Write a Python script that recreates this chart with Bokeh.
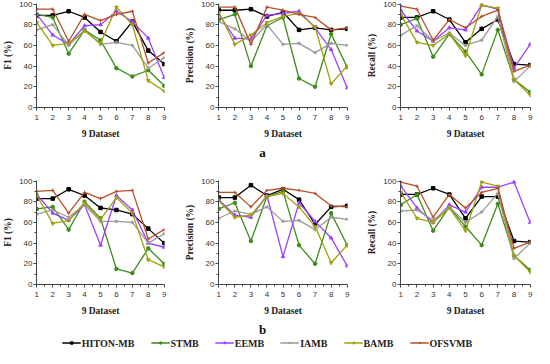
from bokeh.plotting import figure
from bokeh.layouts import column, row
from bokeh.models import Legend, LegendItem, FixedTicker, Range1d, Label
from bokeh.embed import file_html
from bokeh.resources import INLINE

datasets = [1, 2, 3, 4, 5, 6, 7, 8, 9]
methods = ["HITON-MB", "STMB", "EEMB", "IAMB", "BAMB", "OFSVMB"]
colors = ["#000000", "#3c8c1c", "#a040ff", "#9a9a9a", "#a0a010", "#b5502a"]
markers = ["square", "circle", "triangle", "asterisk", "inverted_triangle", "cross"]

# (a) panels
a_f1 = {
    "HITON-MB": [89, 89, 93, 87, 73, 64, 83, 55, 42],
    "STMB":     [90, 87, 52, 75, 65, 38, 30, 36, 21],
    "EEMB":     [90, 70, 61, 79, 80, 93, 83, 67, 29],
    "IAMB":     [75, 80, 60, 75, 61, 63, 60, 38, 48],
    "BAMB":     [82, 60, 62, 74, 62, 97, 80, 26, 16],
    "OFSVMB":   [95, 95, 64, 90, 84, 90, 93, 43, 53],
}
a_precision = {
    "HITON-MB": [94, 94, 95, 88, 92, 75, 77, 75, 76],
    "STMB":     [85, 90, 40, 79, 87, 28, 20, 71, 39],
    "EEMB":     [90, 67, 66, 89, 91, 93, 77, 56, 19],
    "IAMB":     [83, 76, 64, 80, 61, 62, 53, 62, 60],
    "BAMB":     [92, 61, 70, 82, 88, 91, 78, 23, 40],
    "OFSVMB":   [97, 97, 61, 97, 94, 90, 87, 75, 77],
}
a_recall = {
    "HITON-MB": [87, 87, 93, 85, 63, 76, 85, 42, 41],
    "STMB":     [80, 86, 49, 71, 54, 32, 75, 27, 15],
    "EEMB":     [94, 74, 64, 77, 75, 99, 95, 38, 61],
    "IAMB":     [70, 79, 64, 72, 60, 65, 88, 25, 40],
    "BAMB":     [90, 63, 60, 71, 50, 99, 96, 27, 12],
    "OFSVMB":   [98, 95, 65, 85, 77, 88, 94, 35, 41],
}
# (b) panels
b_f1 = {
    "HITON-MB": [83, 83, 92, 86, 74, 72, 68, 54, 40],
    "STMB":     [73, 75, 53, 80, 64, 15, 11, 35, 20],
    "EEMB":     [87, 69, 62, 77, 38, 86, 72, 40, 36],
    "IAMB":     [68, 72, 65, 77, 61, 61, 60, 40, 49],
    "BAMB":     [86, 59, 62, 79, 63, 84, 69, 24, 17],
    "OFSVMB":   [90, 91, 69, 89, 83, 90, 91, 44, 53],
}
b_precision = {
    "HITON-MB": [84, 84, 96, 86, 92, 82, 58, 75, 76],
    "STMB":     [73, 79, 42, 85, 90, 38, 20, 69, 38],
    "EEMB":     [82, 67, 65, 86, 27, 79, 61, 45, 18],
    "IAMB":     [64, 71, 68, 75, 61, 62, 53, 65, 63],
    "BAMB":     [81, 65, 67, 85, 88, 75, 56, 21, 38],
    "OFSVMB":   [89, 89, 75, 91, 93, 91, 88, 76, 75],
}
b_recall = {
    "HITON-MB": [87, 87, 93, 87, 64, 85, 85, 42, 41],
    "STMB":     [77, 87, 52, 75, 56, 38, 78, 28, 14],
    "EEMB":     [95, 74, 60, 77, 70, 94, 94, 99, 60],
    "IAMB":     [71, 72, 62, 75, 60, 70, 88, 25, 40],
    "BAMB":     [89, 64, 60, 74, 52, 99, 95, 28, 12],
    "OFSVMB":   [99, 95, 65, 87, 74, 89, 93, 35, 41],
}
y_ticks = [0, 20, 40, 60, 80, 100]
x_label = "9 Dataset"
group_labels = ["a", "b"]

SERIF = "Liberation Serif"
SANS = "Liberation Sans"


def make_panel(data, ylabel, width, height, left, right, top, bottom):
    p = figure(width=width, height=height, x_range=Range1d(0.98, 9.02),
               y_range=Range1d(0, 100.5), output_backend="svg",
               toolbar_location=None, min_border_left=left,
               min_border_right=right, min_border_top=top,
               min_border_bottom=bottom)
    p.outline_line_color = None
    p.xgrid.visible = False
    p.ygrid.visible = False
    p.xaxis.ticker = FixedTicker(ticks=datasets,
                                 minor_ticks=[d + 0.5 for d in datasets[:-1]])
    p.yaxis.ticker = FixedTicker(ticks=y_ticks,
                                 minor_ticks=[t + 10 for t in y_ticks[:-1]])
    for ax in (p.xaxis[0], p.yaxis[0]):
        ax.major_tick_out = 3
        ax.major_tick_in = 0
        ax.minor_tick_out = 2
        ax.minor_tick_in = 0
        ax.axis_line_color = "#444444"
        ax.major_tick_line_color = "#444444"
        ax.minor_tick_line_color = "#444444"
        ax.major_label_text_font = SANS
        ax.major_label_text_font_size = "8px"
        ax.major_label_text_color = "#333333"
        ax.major_label_standoff = 1
        ax.axis_label_text_font = SERIF
        ax.axis_label_text_font_style = "bold"
        ax.axis_label_text_font_size = "9.5px"
        ax.axis_label_text_color = "#222222"
        ax.axis_label_standoff = 3
    p.xaxis.major_label_standoff = 4
    p.xaxis.axis_label_standoff = 6
    p.xaxis.axis_label = x_label
    p.yaxis.axis_label = ylabel
    for m, c, mk in zip(methods, colors, markers):
        p.line(datasets, data[m], line_color=c, line_width=1.3)
        p.scatter(datasets, data[m], marker=mk, size=3.5, line_color=c,
                  fill_color=c)
    return p


def make_caption(text, height, y_from_bottom):
    f = figure(width=534, height=height, output_backend="svg",
               toolbar_location=None, x_axis_type=None, y_axis_type=None,
               x_range=Range1d(0, 1), y_range=Range1d(0, 1), min_border=0)
    f.outline_line_color = None
    f.xgrid.visible = False
    f.ygrid.visible = False
    f.add_layout(Label(x=262, y=y_from_bottom, x_units="screen",
                       y_units="screen", text=text, text_align="center",
                       text_baseline="middle", text_font=SERIF,
                       text_font_style="bold", text_font_size="13px",
                       text_color="#111111"))
    return f


TOP_H, BOT_H = 141, 146
p1 = make_panel(a_f1, "F1 (%)", 182, TOP_H, 26, 18, 3, 30)
p2 = make_panel(a_precision, "Precision (%)", 182, TOP_H, 27, 17, 3, 30)
p3 = make_panel(a_recall, "Recall (%)", 170, TOP_H, 29, 4, 3, 30)
p4 = make_panel(b_f1, "F1 (%)", 182, BOT_H, 26, 18, 8, 30)
p5 = make_panel(b_precision, "Precision (%)", 182, BOT_H, 27, 17, 8, 30)
p6 = make_panel(b_recall, "Recall (%)", 170, BOT_H, 29, 4, 8, 30)

cap_a = make_caption(group_labels[0], 31, 20)
cap_b = make_caption(group_labels[1], 19, 8)

pl = figure(width=534, height=11, output_backend="svg", toolbar_location=None,
            x_axis_type=None, y_axis_type=None, x_range=Range1d(0, 1),
            y_range=Range1d(0, 1), min_border=0)
pl.outline_line_color = None
pl.xgrid.visible = False
pl.ygrid.visible = False
hidden = [-5]
items = []
for m, c, mk in zip(methods, colors, markers):
    lr = pl.line(x=hidden, y=hidden, line_color=c, line_width=1.3)
    sr = pl.scatter(x=hidden, y=hidden, marker=mk, size=3.5, line_color=c,
                    fill_color=c)
    items.append(LegendItem(label=m, renderers=[lr, sr]))
legend = Legend(items=items, orientation="horizontal", location="center",
                spacing=16, glyph_width=19, glyph_height=6, label_height=10,
                label_standoff=1, padding=0, margin=0,
                border_line_color=None, background_fill_alpha=0,
                label_text_font=SERIF, label_text_font_style="bold",
                label_text_font_size="10px", label_text_color="#222222")
pl.add_layout(legend, "center")

layout = column(row(p1, p2, p3), cap_a, row(p4, p5, p6), cap_b, pl)
open("out.html", "w").write(file_html(layout, INLINE))
